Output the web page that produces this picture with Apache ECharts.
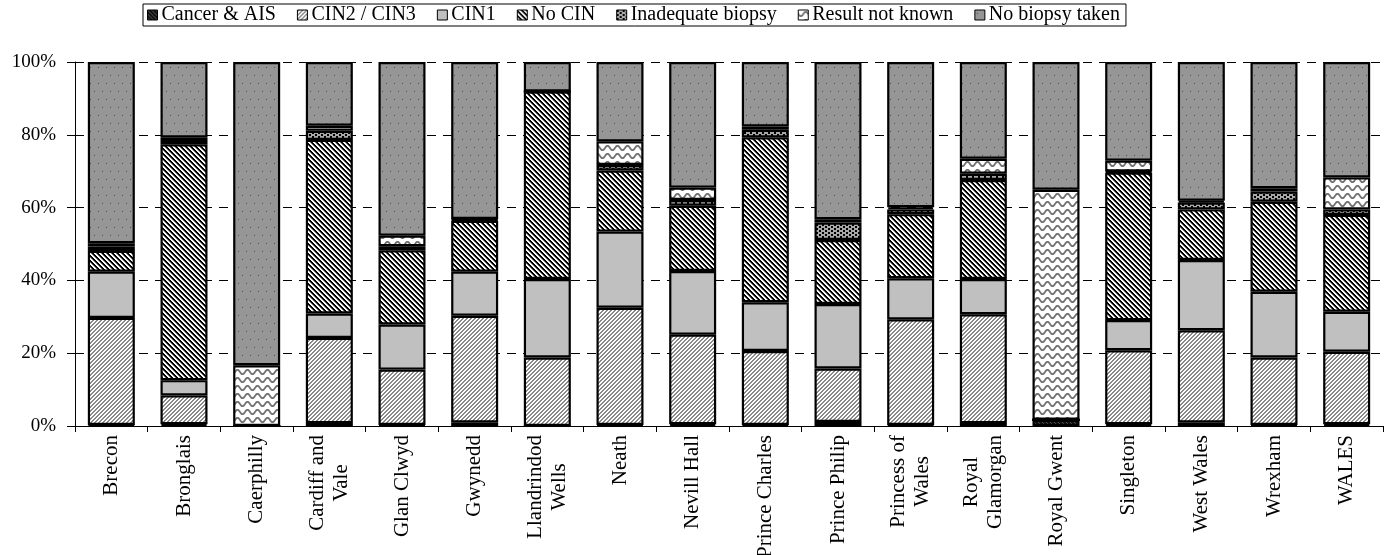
<!DOCTYPE html>
<html>
<head>
<meta charset="utf-8">
<script src="https://cdn.jsdelivr.net/npm/echarts@6/dist/echarts.min.js"></script>
<style>
  html, body { margin: 0; padding: 0; background: #fff; }
  #chart { width: 1390px; height: 555px; }
</style>
</head>
<body>
<div id="chart"></div>
<script>
// Colposcopy outcome by hospital (percentage of referrals)
const hospitals = ['Brecon', 'Bronglais', 'Caerphilly', 'Cardiff and\nVale', 'Glan Clwyd', 'Gwynedd',
  'Llandrindod\nWells', 'Neath', 'Nevill Hall', 'Prince Charles', 'Prince Philip', 'Princess of\nWales',
  'Royal\nGlamorgan', 'Royal Gwent', 'Singleton', 'West Wales', 'Wrexham', 'WALES'];

const outcomeNames = ['Cancer & AIS', 'CIN2 / CIN3', 'CIN1', 'No CIN', 'Inadequate biopsy',
  'Result not known', 'No biopsy taken'];

const cancerAIS   = [0.3, 0.5, 0.0, 0.8, 0.3, 1.0, 0.0, 0.3, 0.5, 0.3, 1.1, 0.3, 0.8, 1.7, 0.5, 1.0, 0.3, 0.5];
const cin2cin3    = [29.4, 7.9, 0.0, 23.4, 15.2, 29.3, 18.8, 32.2, 24.6, 20.3, 14.7, 29.0, 29.9, 0.0, 20.3, 25.3, 18.5, 19.9];
const cin1        = [12.7, 4.2, 0.0, 6.7, 12.4, 12.1, 21.6, 20.9, 17.5, 13.4, 17.7, 11.3, 9.7, 0.0, 8.3, 19.3, 18.1, 11.0];
const noCIN       = [5.7, 64.8, 0.0, 47.7, 20.4, 14.0, 51.5, 16.8, 17.9, 45.3, 17.6, 17.6, 27.2, 0.0, 40.5, 13.9, 24.7, 26.6];
const inadequate  = [1.2, 1.2, 0.0, 2.5, 1.1, 0.3, 0.0, 1.5, 1.6, 2.1, 4.8, 1.3, 1.7, 0.0, 0.3, 1.9, 2.8, 1.5];
const notKnown    = [0.9, 0.7, 16.7, 1.4, 2.9, 0.2, 0.0, 6.5, 3.4, 0.9, 0.9, 0.6, 4.1, 63.2, 3.0, 0.5, 0.9, 8.8];
const noBiopsy    = [49.8, 20.7, 83.3, 17.5, 47.7, 43.1, 8.1, 21.8, 34.5, 17.7, 43.2, 39.9, 26.6, 35.1, 27.1, 38.1, 34.7, 31.7];

const yTicks = [0, 20, 40, 60, 80, 100];

const seriesValues = [cancerAIS, cin2cin3, cin1, noCIN, inadequate, notKnown, noBiopsy];

// Fill patterns (repeating canvas tiles)
function tile(w, h, bg, draw) {
  const c = document.createElement('canvas');
  c.width = w; c.height = h;
  const g = c.getContext('2d');
  g.fillStyle = bg;
  g.fillRect(0, 0, w, h);
  draw(g, w, h);
  return { image: c, repeat: 'repeat' };
}

const fills = [
  // Cancer & AIS: dark, fine diagonal
  tile(4, 4, '#111', (g) => {
    g.fillStyle = '#5a5a5a';
    for (let x = 0; x < 4; x++) g.fillRect(x, x, 1, 1);
  }),
  // CIN2 / CIN3: grey forward diagonal on white
  tile(4, 4, '#fff', (g) => {
    g.fillStyle = '#8a8a8a';
    for (let x = 0; x < 4; x++)
      for (let y = 0; y < 4; y++)
        if ((x + y) % 4 === 0 || (x + y) % 4 === 1) g.fillRect(x, y, 1, 1);
  }),
  // CIN1: plain light grey
  '#c0c0c0',
  // No CIN: black backward diagonal
  tile(5, 5, '#fff', (g) => {
    for (let x = 0; x < 5; x++)
      for (let y = 0; y < 5; y++) {
        const d = ((y - x) % 5 + 5) % 5;
        if (d === 0 || d === 1) { g.fillStyle = '#000'; g.fillRect(x, y, 1, 1); }
        else if (d === 2) { g.fillStyle = '#777'; g.fillRect(x, y, 1, 1); }
      }
  }),
  // Inadequate biopsy: grey with black dots
  tile(6, 4, '#a8a8a8', (g) => {
    g.fillStyle = '#000';
    g.fillRect(0, 0, 2, 2);
    g.fillRect(3, 2, 2, 2);
  }),
  // Result not known: grey waves on white
  tile(10, 8, '#fff', (g) => {
    g.strokeStyle = '#707070';
    g.lineWidth = 1.8;
    g.beginPath();
    for (let x = -1; x <= 11; x += 0.5) {
      const y = 4 + 2.2 * Math.sin((x / 10) * Math.PI * 2);
      if (x === -1) g.moveTo(x, y); else g.lineTo(x, y);
    }
    g.stroke();
  }),
  // No biopsy taken: mid grey with sparse dark dots
  tile(8, 16, '#969696', (g) => {
    g.fillStyle = '#4a4a4a';
    g.fillRect(2, 3, 1, 1);
    g.fillRect(6, 11, 1, 1);
  })
];

const serif = '"Liberation Serif", "Times New Roman", serif';

const series = outcomeNames.map((name, k) => ({
  name: name,
  type: 'bar',
  stack: 'total',
  barWidth: 47,
  data: seriesValues[k],
  itemStyle: { color: fills[k], borderColor: '#000', borderWidth: 2.2 },
  emphasis: { disabled: true }
}));

const chart = echarts.init(document.getElementById('chart'), null, { renderer: 'canvas' });
chart.setOption({
  animation: false,
  backgroundColor: '#fff',
  textStyle: { fontFamily: serif, color: '#000' },
  legend: {
    left: 143,
    top: 4,
    icon: 'rect',
    itemWidth: 10,
    itemHeight: 10,
    itemGap: 21,
    padding: [1, 6, 1, 4],
    borderColor: '#000',
    borderWidth: 1,
    itemStyle: { borderColor: '#000', borderWidth: 1 },
    textStyle: { fontFamily: serif, fontSize: 20, color: '#000', padding: [0, 0, 0, -1] },
    data: outcomeNames
  },
  grid: { left: 75, right: 7, top: 62, bottom: 129, containLabel: false, outerBoundsMode: 'none' },
  xAxis: {
    type: 'category',
    data: hospitals,
    axisLine: { lineStyle: { color: '#000', width: 1 } },
    axisTick: { show: true, length: 6, lineStyle: { color: '#000' } },
    axisLabel: {
      interval: 0,
      rotate: 90,
      margin: 9,
      fontFamily: serif,
      fontSize: 21,
      color: '#000',
      lineHeight: 24,
      formatter: (v) => v.split('\n').map((s) => '{c|' + s + '}').join('\n'),
      rich: { c: { align: 'center', fontFamily: serif, fontSize: 21, lineHeight: 24, color: '#000' } }
    }
  },
  yAxis: {
    type: 'value',
    min: yTicks[0],
    max: yTicks[yTicks.length - 1],
    interval: yTicks[1] - yTicks[0],
    axisLine: { show: true, lineStyle: { color: '#000', width: 1 } },
    axisTick: { show: true, length: 8, lineStyle: { color: '#000' } },
    axisLabel: { formatter: '{value}%', fontFamily: serif, fontSize: 19, color: '#000', margin: 19 },
    splitLine: { show: true, lineStyle: { color: '#000', width: 1, type: [9, 7] } }
  },
  series: series
});
</script>
</body>
</html>
